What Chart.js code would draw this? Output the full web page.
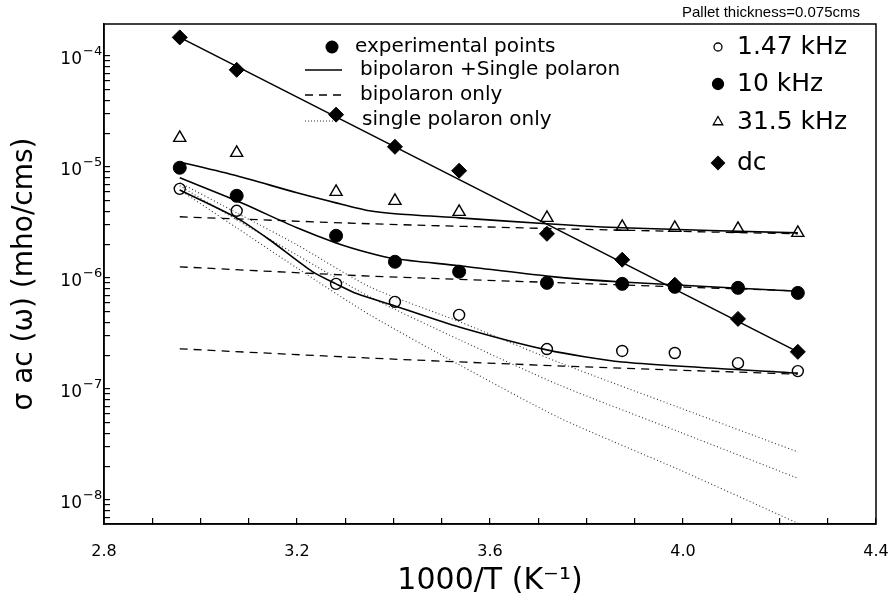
<!DOCTYPE html>
<html>
<head>
<meta charset="utf-8">
<style>
  html, body { margin: 0; padding: 0; background: #fff; }
  #wrap { position: relative; width: 892px; height: 603px; }
</style>
<script src="https://cdn.jsdelivr.net/npm/chart.js@4.4.1/dist/chart.umd.min.js"></script>
</head>
<body>
<div id="wrap"><canvas id="sigmaChart" width="892" height="603"></canvas></div>
<script>
/** measured points: 1000/T and sigma for each frequency */
const invTemp = [2.957, 3.075, 3.281, 3.403, 3.536, 3.718, 3.874, 3.983, 4.114, 4.238];
const sig147 = [6.35e-6, 4.03e-6, 8.85e-7, 6.09e-7, 4.65e-7, 2.29e-7, 2.2e-7, 2.11e-7, 1.71e-7, 1.45e-7];
const sig10 = [9.84e-6, 5.5e-6, 2.4e-6, 1.4e-6, 1.14e-6, 9.04e-7, 8.85e-7, 8.32e-7, 8.15e-7, 7.34e-7];
const sig315 = [1.83e-5, 1.34e-5, 5.97e-6, 4.95e-6, 3.94e-6, 3.48e-6, 2.89e-6, 2.83e-6, 2.77e-6, 2.55e-6];
const sigDc = [1.47e-4, 7.5e-5, 2.96e-5, 1.52e-5, 9.25e-6, 2.5e-6, 1.46e-6, 8.7e-7, 4.28e-7, 2.16e-7];

/** dc fit line */
const dcFitX = [2.957, 4.238];
const dcFit = [1.47e-4, 2.16e-7];

/** bipolaron + single polaron (solid) */
const bothFitX315 = [2.957, 3.075, 3.2, 3.281, 3.35, 3.403, 3.536, 3.718, 3.874, 4.238];
const bothFit315 = [1.11e-5, 8.33e-6, 5.85e-6, 4.75e-6, 4.03e-6, 3.79e-6, 3.48e-6, 3.08e-6, 2.83e-6, 2.55e-6];
const bothFitX10 = [2.957, 3.075, 3.2, 3.281, 3.35, 3.403, 3.536, 3.718, 3.874, 4.238];
const bothFit10 = [8.0e-6, 4.96e-6, 2.83e-6, 2.07e-6, 1.68e-6, 1.49e-6, 1.29e-6, 1.04e-6, 9.2e-7, 7.6e-7];
const bothFitX147 = [2.957, 3.075, 3.143, 3.232, 3.281, 3.325, 3.403, 3.536, 3.718, 3.874, 4.238];
const bothFit147 = [6.2e-6, 3.48e-6, 2.21e-6, 1.14e-6, 8.85e-7, 7.2e-7, 5.6e-7, 3.62e-7, 2.25e-7, 1.75e-7, 1.39e-7];

/** bipolaron only (dashed) */
const biFitX = [2.957, 3.35, 3.75, 4.238];
const biFit315 = [3.56e-6, 3.08e-6, 2.77e-6, 2.5e-6];
const biFit10 = [1.26e-6, 1.04e-6, 9.04e-7, 7.64e-7];
const biFit147 = [2.3e-7, 1.9e-7, 1.61e-7, 1.36e-7];

/** single polaron only (dotted) */
const spFitX = [2.957, 3.075, 3.2, 3.351, 3.538, 3.745, 3.994, 4.238];
const spFitA = [7.21e-6, 3.86e-6, 1.99e-6, 8.32e-7, 4.02e-7, 1.72e-7, 6.75e-8, 2.71e-8];
const spFitB = [6.77e-6, 3.34e-6, 1.61e-6, 6.75e-7, 2.76e-7, 1.08e-7, 4.08e-8, 1.57e-8];
const spFitC = [6.22e-6, 2.83e-6, 1.23e-6, 4.65e-7, 1.64e-7, 5.47e-8, 1.86e-8, 6.18e-9];

/** axes */
const xTickVals = [2.8, 3.2, 3.6, 4.0, 4.4];
const xTickLabels = ['2.8', '3.2', '3.6', '4.0', '4.4'];
const yDecades = [-9, -8, -7, -6, -5, -4];
const yLabelExps = [-8, -7, -6, -5, -4];
const yMin = 6.08e-9;
const yMax = 1.94e-4;

const FONT = 'DejaVu Sans';

const zip = (xs, ys) => xs.map((x, i) => ({ x: x, y: ys[i] }));

const pointSet = (label, ys, style, radius, filled) => ({
  label: label,
  data: zip(invTemp, ys),
  showLine: false,
  pointStyle: style,
  pointRadius: radius,
  pointBackgroundColor: filled ? '#000' : 'rgba(0,0,0,0)',
  pointBorderColor: '#000',
  pointBorderWidth: filled ? 1 : 1.4,
});

const fitSet = (xs, ys, dash, width, color) => ({
  data: zip(xs, ys),
  showLine: true,
  pointRadius: 0,
  borderColor: color,
  borderWidth: width,
  borderDash: dash,
  tension: 0.25,
  fill: false,
});

const paperDeco = {
  id: 'paperDeco',
  afterDraw(chart) {
    const ctx = chart.ctx;
    const a = chart.chartArea;
    ctx.save();
    ctx.strokeStyle = '#000';
    ctx.lineWidth = 1.5;
    ctx.strokeRect(a.left, a.top, a.right - a.left, a.bottom - a.top);

    ctx.fillStyle = '#000';
    ctx.textBaseline = 'middle';

    // y tick labels 10^n with real superscripts
    const ys = chart.scales.y;
    yLabelExps.forEach((e) => {
      const py = ys.getPixelForValue(Math.pow(10, e));
      ctx.textAlign = 'right';
      ctx.font = '17px ' + FONT;
      ctx.fillText('10', 82, py + 4);
      ctx.textAlign = 'left';
      ctx.font = '13px ' + FONT;
      ctx.fillText('\u2212' + Math.abs(e), 83, py - 4);
    });

    // left legend (line styles)
    ctx.textAlign = 'left';
    ctx.font = '20px ' + FONT;
    ctx.beginPath();
    ctx.arc(332, 47, 6.5, 0, Math.PI * 2);
    ctx.fill();
    ctx.fillText('experimental points', 355, 47);

    ctx.lineWidth = 1.6;
    ctx.setLineDash([]);
    ctx.beginPath(); ctx.moveTo(305, 70); ctx.lineTo(342, 70); ctx.stroke();
    ctx.fillText('bipolaron +Single polaron', 360, 70);

    ctx.lineWidth = 1.3;
    ctx.setLineDash([8, 6]);
    ctx.beginPath(); ctx.moveTo(305, 95); ctx.lineTo(342, 95); ctx.stroke();
    ctx.fillText('bipolaron only', 360, 95);

    ctx.lineWidth = 1.1;
    ctx.strokeStyle = '#333';
    ctx.setLineDash([1, 2]);
    ctx.beginPath(); ctx.moveTo(305, 121); ctx.lineTo(335, 121); ctx.stroke();
    ctx.fillText('single polaron only', 362, 120);
    ctx.setLineDash([]);

    // right legend (frequencies)
    ctx.strokeStyle = '#000';
    ctx.font = '25px ' + FONT;
    const rows = [
      { text: '1.47 kHz', y: 47, style: 'circle', r: 4, fill: false },
      { text: '10 kHz', y: 84, style: 'circle', r: 5.5, fill: true },
      { text: '31.5 kHz', y: 122, style: 'triangle', r: 5.5, fill: false },
      { text: 'dc', y: 163, style: 'rectRot', r: 6.5, fill: true },
    ];
    rows.forEach((row) => {
      ctx.fillStyle = row.fill ? '#000' : 'rgba(0,0,0,0)';
      ctx.lineWidth = 1.3;
      Chart.helpers.drawPoint(ctx, { pointStyle: row.style, radius: row.r, rotation: 0, borderWidth: 1.3 }, 718, row.y);
      ctx.fillStyle = '#000';
      ctx.fillText(row.text, 737, row.y);
    });

    // note above the frame
    ctx.font = '15px "Liberation Sans"';
    ctx.textAlign = 'right';
    ctx.fillText('Pallet thickness=0.075cms', 860, 13);
    ctx.restore();
  },
};

const sigmaChart = new Chart(document.getElementById('sigmaChart'), {
  type: 'line',
  data: {
    datasets: [
      pointSet('1.47 kHz', sig147, 'circle', 5.5, false),
      pointSet('10 kHz', sig10, 'circle', 6.5, true),
      pointSet('31.5 kHz', sig315, 'triangle', 7, false),
      pointSet('dc', sigDc, 'rectRot', 7.5, true),
      fitSet(dcFitX, dcFit, [], 1.6, '#000'),
      fitSet(bothFitX315, bothFit315, [], 1.6, '#000'),
      fitSet(bothFitX10, bothFit10, [], 1.6, '#000'),
      fitSet(bothFitX147, bothFit147, [], 1.6, '#000'),
      fitSet(biFitX, biFit315, [8, 6], 1.3, '#000'),
      fitSet(biFitX, biFit10, [8, 6], 1.3, '#000'),
      fitSet(biFitX, biFit147, [8, 6], 1.3, '#000'),
      fitSet(spFitX, spFitA, [1, 2.5], 1.1, '#333'),
      fitSet(spFitX, spFitB, [1, 2.5], 1.1, '#333'),
      fitSet(spFitX, spFitC, [1, 2.5], 1.1, '#333'),
    ],
  },
  options: {
    responsive: false,
    animation: false,
    devicePixelRatio: 1,
    layout: { padding: { left: 0, right: 16, top: 24, bottom: 0 } },
    plugins: {
      legend: { display: false },
      tooltip: { enabled: false },
    },
    scales: {
      x: {
        type: 'linear',
        min: 2.8,
        max: 4.4,
        border: { display: true, color: '#000', width: 1.5 },
        grid: { drawOnChartArea: false, color: '#000', tickLength: -6, lineWidth: 1.2 },
        ticks: {
          stepSize: 0.1,
          autoSkip: false,
          maxRotation: 0,
          padding: 24,
          color: '#000',
          font: { family: FONT, size: 16 },
          callback: (value) => {
            const k = xTickVals.findIndex((v) => Math.abs(v - value) < 1e-6);
            return k >= 0 ? xTickLabels[k] : '';
          },
        },
        title: {
          display: true,
          text: '1000/T (K\u207B\u00B9)',
          color: '#000',
          font: { family: FONT, size: 30 },
          padding: { top: 0, bottom: 4 },
        },
        afterFit: (scale) => {
          scale.height = 79;
          scale.paddingLeft = 0;
          scale.paddingRight = 0;
        },
      },
      y: {
        type: 'logarithmic',
        min: yMin,
        max: yMax,
        border: { display: true, color: '#000', width: 1.5 },
        grid: { drawOnChartArea: false, color: '#000', tickLength: -6, lineWidth: 1.2 },
        afterBuildTicks: (axis) => {
          const ticks = [];
          yDecades.forEach((d) => {
            for (let m = 1; m <= 9; m++) {
              const v = m * Math.pow(10, d);
              if (v >= yMin && v <= yMax) ticks.push({ value: v });
            }
          });
          axis.ticks = ticks;
        },
        ticks: {
          autoSkip: false,
          padding: 10,
          color: '#000',
          font: { family: FONT, size: 17 },
          callback: () => '',
        },
        title: {
          display: true,
          text: '\u03C3 ac (\u03C9) (mho/cms)',
          color: '#000',
          font: { family: FONT, size: 28 },
          padding: { top: 8, bottom: 0 },
        },
        afterFit: (scale) => {
          scale.width = 104;
          scale.paddingTop = 0;
          scale.paddingBottom = 0;
        },
      },
    },
  },
  plugins: [paperDeco],
});
</script>
</body>
</html>
